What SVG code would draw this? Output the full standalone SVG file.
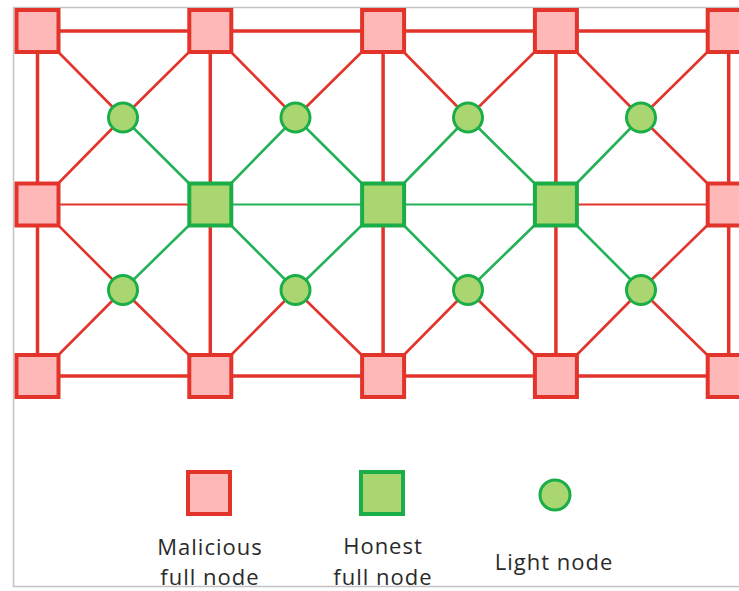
<svg xmlns="http://www.w3.org/2000/svg" width="739" height="591" viewBox="0 0 739 591">
  <style>
    .frame { fill: none; stroke: #c4c4c4; stroke-width: 1.5; }
    .e-red { stroke: #e3342b; fill: none; }
    .e-green { stroke: #25b157; fill: none; }
    .thick { stroke-width: 3.5; }
    .diag { stroke-width: 2.6; }
    .thin { stroke-width: 2; }
    .mal { fill: #ffb8b8; stroke: #e3342b; stroke-width: 4; }
    .hon { fill: #a9d670; stroke: #1bae48; stroke-width: 4; }
    .light { fill: #a9d670; stroke: #1bae48; stroke-width: 3; }
    .lbl { font-family: "Open Sans", "Liberation Sans", sans-serif; font-size: 22px; fill: #2a2a2a; letter-spacing: 1px; text-anchor: middle; }
  </style>

  <!-- outer frame -->
  <path class="frame" d="M739 7.5 H13.5 V586.5 H739"/>

  <!-- connectors -->
  <g id="connectors">
    <!-- top and bottom rows -->
    <path class="e-red thick" d="M37.5 31 H728.7 M37.5 376 H728.7"/>
    <!-- columns -->
    <path class="e-red thick" d="M37.5 31 V376 M210.3 31 V376 M383.1 31 V376 M555.9 31 V376 M728.7 31 V376"/>
    <!-- middle row -->
    <path class="e-red thin" d="M37.5 204.5 H210.3 M555.9 204.5 H728.7"/>
    <path class="e-green thin" d="M210.3 204.5 H555.9"/>

    <!-- light node links, upper band -->
    <path class="e-red diag" d="M123 117.5 L37.5 31 M123 117.5 L210.3 31 M123 117.5 L37.5 204.5"/>
    <path class="e-green diag" d="M123 117.5 L210.3 204.5"/>
    <path class="e-red diag" d="M295.5 117.5 L210.3 31 M295.5 117.5 L383.1 31"/>
    <path class="e-green diag" d="M295.5 117.5 L210.3 204.5 M295.5 117.5 L383.1 204.5"/>
    <path class="e-red diag" d="M468 117.5 L383.1 31 M468 117.5 L555.9 31"/>
    <path class="e-green diag" d="M468 117.5 L383.1 204.5 M468 117.5 L555.9 204.5"/>
    <path class="e-red diag" d="M641 117.5 L555.9 31 M641 117.5 L728.7 31 M641 117.5 L728.7 204.5"/>
    <path class="e-green diag" d="M641 117.5 L555.9 204.5"/>

    <!-- light node links, lower band -->
    <path class="e-red diag" d="M123 290 L37.5 376 M123 290 L210.3 376 M123 290 L37.5 204.5"/>
    <path class="e-green diag" d="M123 290 L210.3 204.5"/>
    <path class="e-red diag" d="M295.5 290 L210.3 376 M295.5 290 L383.1 376"/>
    <path class="e-green diag" d="M295.5 290 L210.3 204.5 M295.5 290 L383.1 204.5"/>
    <path class="e-red diag" d="M468 290 L383.1 376 M468 290 L555.9 376"/>
    <path class="e-green diag" d="M468 290 L383.1 204.5 M468 290 L555.9 204.5"/>
    <path class="e-red diag" d="M641 290 L555.9 376 M641 290 L728.7 376 M641 290 L728.7 204.5"/>
    <path class="e-green diag" d="M641 290 L555.9 204.5"/>
  </g>

  <!-- full nodes, top row -->
  <g id="f00"><rect class="mal" x="16.5" y="10" width="42" height="42"/></g>
  <g id="f10"><rect class="mal" x="189.3" y="10" width="42" height="42"/></g>
  <g id="f20"><rect class="mal" x="362.1" y="10" width="42" height="42"/></g>
  <g id="f30"><rect class="mal" x="534.9" y="10" width="42" height="42"/></g>
  <g id="f40"><rect class="mal" x="707.7" y="10" width="42" height="42"/></g>

  <!-- full nodes, middle row -->
  <g id="f01"><rect class="mal" x="16.5" y="183.5" width="42" height="42"/></g>
  <g id="f11"><rect class="hon" x="189.3" y="183.5" width="42" height="42"/></g>
  <g id="f21"><rect class="hon" x="362.1" y="183.5" width="42" height="42"/></g>
  <g id="f31"><rect class="hon" x="534.9" y="183.5" width="42" height="42"/></g>
  <g id="f41"><rect class="mal" x="707.7" y="183.5" width="42" height="42"/></g>

  <!-- full nodes, bottom row -->
  <g id="f02"><rect class="mal" x="16.5" y="355" width="42" height="42"/></g>
  <g id="f12"><rect class="mal" x="189.3" y="355" width="42" height="42"/></g>
  <g id="f22"><rect class="mal" x="362.1" y="355" width="42" height="42"/></g>
  <g id="f32"><rect class="mal" x="534.9" y="355" width="42" height="42"/></g>
  <g id="f42"><rect class="mal" x="707.7" y="355" width="42" height="42"/></g>

  <!-- light nodes -->
  <g id="l00"><circle class="light" cx="123" cy="117.5" r="14.5"/></g>
  <g id="l10"><circle class="light" cx="295.5" cy="117.5" r="14.5"/></g>
  <g id="l20"><circle class="light" cx="468" cy="117.5" r="14.5"/></g>
  <g id="l30"><circle class="light" cx="641" cy="117.5" r="14.5"/></g>
  <g id="l01"><circle class="light" cx="123" cy="290" r="14.5"/></g>
  <g id="l11"><circle class="light" cx="295.5" cy="290" r="14.5"/></g>
  <g id="l21"><circle class="light" cx="468" cy="290" r="14.5"/></g>
  <g id="l31"><circle class="light" cx="641" cy="290" r="14.5"/></g>

  <!-- legend -->
  <g id="legend-malicious">
    <rect class="mal" x="188" y="472" width="42" height="42"/>
    <text class="lbl" x="210" y="555">Malicious</text>
    <text class="lbl" x="210" y="585">full node</text>
  </g>
  <g id="legend-honest">
    <rect class="hon" x="361" y="472" width="42" height="42"/>
    <text class="lbl" x="383" y="554">Honest</text>
    <text class="lbl" x="383" y="585">full node</text>
  </g>
  <g id="legend-light">
    <circle class="light" cx="555" cy="495" r="15"/>
    <text class="lbl" x="554" y="570">Light node</text>
  </g>
</svg>
